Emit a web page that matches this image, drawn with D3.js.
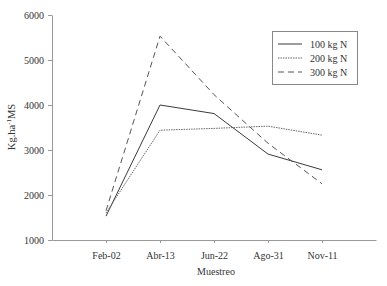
<!DOCTYPE html>
<html>
<head>
<meta charset="utf-8">
<script src="https://cdn.jsdelivr.net/npm/d3@7"></script>
<style>
html,body{margin:0;padding:0;background:#fff;}
text{font-family:"Liberation Serif","DejaVu Serif",serif;}
</style>
</head>
<body>
<svg id="chart" width="387" height="286"></svg>
<script>
const categories = ["Feb-02","Abr-13","Jun-22","Ago-31","Nov-11"];
const seriesNames = ["100 kg N","200 kg N","300 kg N"];
const values100 = [1530, 4000, 3810, 2910, 2560];
const values200 = [1600, 3440, 3480, 3530, 3330];
const values300 = [1650, 5530, 4230, 3150, 2250];
const yTicks = [1000, 2000, 3000, 4000, 5000, 6000];

(function () {
const series = [
  {name: seriesNames[0], values: values100, dash: null, color: "#3a3a3a", width: 1},
  {name: seriesNames[1], values: values200, dash: "1.5,1", color: "#666", width: 1},
  {name: seriesNames[2], values: values300, dash: "6,4", color: "#555", width: 1}
];

const svg = d3.select("#chart");
const mLeft = 52, mRight = 376, mTop = 15, mBottom = 240;

const x = d3.scalePoint().domain(["", ...categories, " "]).range([mLeft, mRight]);
const y = d3.scaleLinear().domain([1000, 6000]).range([mBottom, mTop]);

// Y axis
const yAxis = svg.append("g").attr("transform", `translate(${mLeft},0)`)
  .call(d3.axisLeft(y).tickValues(yTicks).tickSize(4).tickSizeOuter(0).tickFormat(d3.format("d")));
yAxis.select(".domain").attr("stroke", "#999");
yAxis.selectAll(".tick line").attr("stroke", "#999");
yAxis.selectAll("text").attr("fill", "#333").style("font-size", "10px").attr("dx", "-1");

// X axis
const xAxis = svg.append("g").attr("transform", `translate(0,${mBottom})`)
  .call(d3.axisBottom(x).tickValues(categories).tickSize(3).tickSizeOuter(0).tickPadding(9));
xAxis.select(".domain").attr("stroke", "#999");
xAxis.selectAll(".tick line").attr("stroke", "#999");
xAxis.selectAll("text").attr("fill", "#333").style("font-size", "10px");

// Axis titles
svg.append("text").attr("x", (mLeft + mRight) / 2 + 2).attr("y", 275)
  .attr("text-anchor", "middle").attr("fill", "#333").style("font-size", "10px").text("Muestreo");

const yl = svg.append("text").attr("transform", `translate(15,127) rotate(-90)`)
  .attr("text-anchor", "middle").attr("fill", "#333").style("font-size", "10.5px");
yl.append("tspan").text("Kg.ha");
yl.append("tspan").attr("dy", "-4").style("font-size", "7px").text("-1");
yl.append("tspan").attr("dy", "4").text("MS");

// Lines
const line = d3.line().x((d, i) => x(categories[i])).y(d => y(d));
series.forEach(s => {
  svg.append("path").datum(s.values)
    .attr("d", line)
    .attr("fill", "none")
    .attr("stroke", s.color)
    .attr("stroke-width", s.width)
    .attr("stroke-dasharray", s.dash);
});

// Legend
const lg = svg.append("g");
lg.append("rect").attr("x", 272.5).attr("y", 31.5).attr("width", 85).attr("height", 53)
  .attr("fill", "#fff").attr("stroke", "#888").attr("stroke-width", 1);
series.forEach((s, i) => {
  const yy = 44 + i * 14;
  lg.append("line").attr("x1", 278).attr("x2", 302).attr("y1", yy).attr("y2", yy)
    .attr("stroke", s.color).attr("stroke-width", s.width).attr("stroke-dasharray", s.dash);
  lg.append("text").attr("x", 310).attr("y", yy + 3.5).attr("fill", "#333")
    .style("font-size", "10px").text(s.name);
});
})();
</script>
</body>
</html>
